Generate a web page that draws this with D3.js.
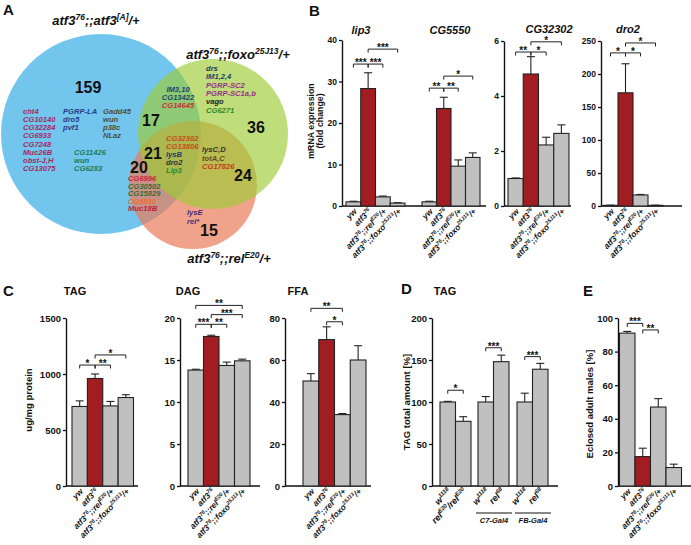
<!DOCTYPE html>
<html><head><meta charset="utf-8">
<script src="https://cdn.jsdelivr.net/npm/d3@7"></script>
<style>
body{margin:0;background:#fff}
svg{display:block}
text{font-family:"Liberation Sans",Arial,Helvetica,sans-serif;font-weight:bold;fill:#111}
</style>
</head><body>
<svg id="c" width="691" height="545"></svg>
<script>
// ---------------- DATA ----------------
const genotypes = ["yw","atf3^{76}","atf3^{76};;rel^{E20}/+","atf3^{76};;foxo^{25J13}/+"];

// Panel A (Venn)
const vennSets = ["atf3^{76};;atf3^{[A]}/+","atf3^{76};;foxo^{25J13}/+","atf3^{76};;rel^{E20}/+"];
const vennRegions = ["A","AB","B","ABC","AC","BC","C"];
const vennCounts = [159,17,36,21,20,24,15];
const genesA1 = ["cht4","CG10140","CG32284","CG6933","CG7248","Muc26B","obst-J,H","CG13075"];
const genesA2 = ["PGRP-LA","dro5","pvf1"];
const genesA3 = ["Gadd45","wun","p38c","NLaz"];
const genesA4 = ["CG11426","wun","CG6283"];
const genesAB = ["IM3,10","CG13422","CG14645"];
const genesB = ["drs","IM1,2,4","PGRP-SC2","PGRP-SC1a,b","vago","CG6271"];
const genesABC = ["CG32302","CG13806","lysB","dro2","Lip3"];
const genesBC = ["lysC,D","totA,C","CG17826"];
const genesAC = ["CG6996","CG30502","CG15829","CG5550","Muc18B"];
const genesC = ["lysE","rel*"];

// Panel B (mRNA fold change)
const lip3Mean = [1.0, 28.3, 2.2, 0.7];
const lip3Err  = [0.15, 3.8, 0.2, 0.1];
const cg5550Mean = [1.0, 23.5, 9.6, 11.7];
const cg5550Err  = [0.15, 2.7, 1.5, 1.1];
const cg32302Mean = [1.0, 4.8, 2.22, 2.64];
const cg32302Err  = [0.02, 0.63, 0.28, 0.31];
const dro2Mean = [1, 171.5, 16.7, 1];
const dro2Err  = [0.3, 44, 0.8, 0.3];
const bTicksLip = [0,10,20,30,40];
const bTicksCG32302 = [0,2,4,6];
const bTicksDro2 = [0,50,100,150,200,250];
// significance: [group, i, j, stars, level]
const lipSig = [[0,0,1,"***",34.2],[0,1,2,"***",34.2],[0,1,3,"***",37.8],
                [1,0,1,"**",28.4],[1,1,2,"**",28.4],[1,1,3,"*",31.3]];
const cg32302Sig = [[0,0,1,"**",5.6],[0,1,2,"*",5.6],[0,1,3,"*",5.97]];
const dro2Sig = [[0,0,1,"*",232],[0,1,2,"*",232],[0,1,3,"*",247]];

// Panel C (lipids)
const tagMean = [710, 960, 715, 790];
const tagErr  = [50, 40, 40, 25];
const dagMean = [13.8, 17.8, 14.35, 14.9];
const dagErr  = [0.1, 0.15, 0.4, 0.2];
const ffaMean = [50, 69.7, 34, 60];
const ffaErr  = [3.5, 6.1, 0.5, 6.8];
const tagTicks = [0,500,1000,1500];
const dagTicks = [0,5,10,15,20];
const ffaTicks = [0,20,40,60,80];
const tagSig = [[0,0,1,"*",1080],[0,1,2,"**",1080],[0,1,3,"*",1170]];
const dagSig = [[0,0,3,"**",21.5],[0,1,3,"***",20.4],[0,0,1,"***",19.25],[0,1,2,"**",19.25]];
const ffaSig = [[0,0,2,"**",84.6],[0,1,2,"*",78.2]];

// Panel D (TAG %)
const dLabels = [["w^{1118}","rel^{E20}/rel^{E20}"],["w^{1118}","rel^{68}"],["w^{1118}","rel^{68}"]];
const dDrivers = ["", "C7-Gal4", "FB-Gal4"];
const dMean = [[100, 77],[100, 148],[100, 139]];
const dErr  = [[0.8, 5.5],[6.5, 7.8],[10.5, 7]];
const dTicks = [0,50,100,150,200];
const dSig = [[0,0,1,"*",114],[1,0,1,"***",164.6],[2,0,1,"***",154]];

// Panel E (eclosion)
const eMean = [91, 17.5, 47, 11];
const eErr  = [1, 5, 5, 2];
const eTicks = [0,20,40,60,80,100];
const eSig = [[0,0,1,"***",96.8],[0,1,2,"**",92.9]];

// ---------------- STYLE ----------------
const GRAY = "#c0c0c0", RED = "#a11d22";
const genoFill = [GRAY, RED, GRAY, GRAY];

const svg = d3.select("#c");

function rich(t, str, size, sup) {
  const parts = str.split(/(\^\{[^}]*\})/).filter(s => s.length);
  let up = false;
  const sh = size * 0.42;
  parts.forEach(p => {
    if (p.startsWith("^{")) {
      t.append("tspan").attr("font-size", sup).attr("dy", up ? 0 : -sh).text(p.slice(2, -1));
      up = true;
    } else {
      t.append("tspan").attr("font-size", size).attr("dy", up ? sh : 0).text(p);
      up = false;
    }
  });
  return t;
}

function barChart(cfg) {
  const g = svg.append("g");
  const y = d3.scaleLinear().domain(cfg.domain).range([cfg.base, cfg.top]);
  const ax = d3.axisLeft(y).tickValues(cfg.ticks).tickFormat(d3.format("d"))
    .tickSize(3).tickSizeOuter(0).tickPadding(2);
  const ga = g.append("g").attr("transform", `translate(${cfg.axisX},0)`).call(ax);
  ga.attr("font-family", null).attr("font-size", null);
  ga.select(".domain").attr("stroke", "#111").attr("stroke-width", 1.4);
  ga.selectAll(".tick line").attr("stroke", "#111").attr("stroke-width", 1.3);
  ga.selectAll(".tick text").attr("font-size", cfg.tickFont).attr("fill", "#111");
  g.append("line").attr("x1", cfg.axisX).attr("x2", cfg.baseEnd)
    .attr("y1", y(0)).attr("y2", y(0)).attr("stroke", "#111").attr("stroke-width", 1.4);

  const xs = cfg.groups.map(gr => {
    const x = d3.scaleBand().domain(d3.range(gr.means.length)).range([gr.x0, gr.x1]);
    const bw = x.bandwidth();
    gr.means.forEach((m, i) => {
      const e = gr.errs[i];
      const cx = x(i) + bw / 2;
      g.append("line").attr("x1", cx).attr("x2", cx).attr("y1", y(m)).attr("y2", y(m + e))
        .attr("stroke", "#222").attr("stroke-width", 1.1);
      g.append("line").attr("x1", cx - 4).attr("x2", cx + 4).attr("y1", y(m + e)).attr("y2", y(m + e))
        .attr("stroke", "#222").attr("stroke-width", 1.1);
      g.append("rect").attr("x", x(i)).attr("y", y(m)).attr("width", bw).attr("height", y(0) - y(m))
        .attr("fill", gr.fills[i]).attr("stroke", "#222").attr("stroke-width", 1.1);
      const t = g.append("text").attr("text-anchor", "end").attr("font-style", "italic")
        .attr("transform", `translate(${cx + 4},${y(0) + 6}) rotate(-45)`);
      rich(t, gr.labels[i], cfg.labFont, cfg.labFont * 0.65);
    });
    return x;
  });

  (cfg.sig || []).forEach(([gi, i, j, s, v]) => {
    const x = xs[gi], bw = x.bandwidth();
    const x1 = x(i) + bw / 2, x2 = x(j) + bw / 2, yy = y(v);
    g.append("path").attr("d", `M${x1},${yy + 3.5}V${yy}H${x2}V${yy + 3.5}`)
      .attr("fill", "none").attr("stroke", "#222").attr("stroke-width", 1);
    g.append("text").attr("x", (x1 + x2) / 2).attr("y", yy + 2).attr("text-anchor", "middle")
      .attr("font-size", 10).text(s);
  });

  if (cfg.title) {
    cfg.title.forEach(tt => {
      g.append("text").attr("x", tt.x).attr("y", tt.y).attr("text-anchor", "middle")
        .attr("font-size", tt.size).attr("font-style", tt.italic ? "italic" : "normal").text(tt.text);
    });
  }
  return { g, y, xs };
}

function yLabel(lines, x, yc, size, gap) {
  lines.forEach((l, k) => {
    svg.append("text").attr("transform", `translate(${x + k * gap},${yc}) rotate(-90)`)
      .attr("text-anchor", "middle").attr("font-size", size).text(l);
  });
}

function letter(s, x, y) {
  svg.append("text").attr("x", x).attr("y", y).attr("font-size", 15).text(s);
}

// ---------------- PANEL A ----------------
letter("A", 3, 15);
const venn = svg.append("g");
venn.append("circle").attr("cx", 101).attr("cy", 134).attr("r", 100).attr("fill", "#72c6ee");
venn.append("circle").attr("cx", 193).attr("cy", 185).attr("r", 64).attr("fill", "#e97c58").attr("fill-opacity", 0.7);
venn.append("circle").attr("cx", 213).attr("cy", 134).attr("r", 75).attr("fill", "#9ccc34").attr("fill-opacity", 0.65);

const titlePos = [[96, 25], [238, 59], [229, 263]];
vennSets.forEach((s, k) => {
  const t = venn.append("text").attr("x", titlePos[k][0]).attr("y", titlePos[k][1])
    .attr("text-anchor", "middle").attr("font-style", "italic");
  rich(t, s, 13, 8.5);
});

const countPos = [[88, 87], [151, 120], [256, 127], [153, 153], [139, 167], [243, 175], [209, 230]];
vennCounts.forEach((c, k) => {
  venn.append("text").attr("x", countPos[k][0]).attr("y", countPos[k][1] + 5.5)
    .attr("text-anchor", "middle").attr("font-size", 16).text(c);
});

function geneList(list, colors, x, y0, dy, anchor) {
  list.forEach((gname, k) => {
    venn.append("text").attr("x", x).attr("y", y0 + k * dy).attr("text-anchor", anchor || "start")
      .attr("font-size", 7.6).attr("font-style", "italic")
      .style("fill", colors[k] || colors[0]).text(gname);
  });
}
const CR = "#a52a5c", NAVY = "#283a86", OLV = "#4f4f33", TEAL = "#1c7a5a";
geneList(genesA1, [CR], 23, 114, 8.15);
geneList(genesA2, [NAVY], 63, 114, 8.15);
geneList(genesA3, [OLV], 103, 114, 8.15);
geneList(genesA4, [TEAL], 74, 154.7, 8.15);
geneList(genesAB, ["#1e3d6e", "#1d4a60", "#c83030"], 178, 92, 8, "middle");
geneList(genesB, ["#2a3a5a", "#2a3a6a", "#992e88", "#992e88", "#222", "#2a8a2a"], 206, 71, 8.3);
geneList(genesABC, ["#c84a1a", "#c84a1a", "#2a3a6a", "#333", "#2a8a2a"], 166, 141, 8);
geneList(genesBC, ["#333", "#6a4a1a", "#c8381a"], 202, 152, 8.5);
geneList(genesAC, ["#d02040", "#3a6a3a", "#3a6a3a", "#f26a3a", "#c0203a"], 128, 181, 7.5);
geneList(genesC, ["#4a2a7a", "#4a2a7a"], 187, 215, 9);

// ---------------- PANEL B ----------------
letter("B", 309, 16);
yLabel(["mRNA expression", "(fold change)"], 314, 121, 8.8, 9);
barChart({
  axisX: 342, base: 206, top: 40, domain: [0, 40], ticks: bTicksLip, tickFont: 8.5,
  baseEnd: 486, labFont: 8.3,
  groups: [
    { x0: 346, x1: 405, means: lip3Mean, errs: lip3Err, fills: genoFill, labels: genotypes },
    { x0: 422, x1: 480, means: cg5550Mean, errs: cg5550Err, fills: genoFill, labels: genotypes }
  ],
  sig: lipSig,
  title: [{ x: 361, y: 34, size: 11, italic: true, text: "lip3" }, { x: 450, y: 34, size: 11, italic: true, text: "CG5550" }]
});
barChart({
  axisX: 504, base: 206, top: 41, domain: [0, 6], ticks: bTicksCG32302, tickFont: 8.5,
  baseEnd: 571, labFont: 8.3,
  groups: [{ x0: 508, x1: 569, means: cg32302Mean, errs: cg32302Err, fills: genoFill, labels: genotypes }],
  sig: cg32302Sig,
  title: [{ x: 549, y: 32.5, size: 11, italic: true, text: "CG32302" }]
});
barChart({
  axisX: 601, base: 206, top: 41, domain: [0, 250], ticks: bTicksDro2, tickFont: 8.5,
  baseEnd: 682, labFont: 8.3,
  groups: [{ x0: 603, x1: 663, means: dro2Mean, errs: dro2Err, fills: genoFill, labels: genotypes }],
  sig: dro2Sig,
  title: [{ x: 628, y: 32.5, size: 11, italic: true, text: "dro2" }]
});

// ---------------- PANEL C ----------------
letter("C", 3, 296);
yLabel(["ug/mg protein"], 32, 400, 9.5, 0);
barChart({
  axisX: 66, base: 486, top: 318, domain: [0, 1500], ticks: tagTicks, tickFont: 9.5,
  baseEnd: 138, labFont: 8.3,
  groups: [{ x0: 72, x1: 133.5, means: tagMean, errs: tagErr, fills: genoFill, labels: genotypes }],
  sig: tagSig,
  title: [{ x: 75, y: 295, size: 11, text: "TAG" }]
});
barChart({
  axisX: 180, base: 486, top: 318, domain: [0, 20], ticks: dagTicks, tickFont: 9.5,
  baseEnd: 260, labFont: 8.3,
  groups: [{ x0: 188, x1: 250, means: dagMean, errs: dagErr, fills: genoFill, labels: genotypes }],
  sig: dagSig,
  title: [{ x: 188, y: 295, size: 11, text: "DAG" }]
});
barChart({
  axisX: 285, base: 486, top: 318, domain: [0, 80], ticks: ffaTicks, tickFont: 9.5,
  baseEnd: 371, labFont: 8.3,
  groups: [{ x0: 303, x1: 366, means: ffaMean, errs: ffaErr, fills: genoFill, labels: genotypes }],
  sig: ffaSig,
  title: [{ x: 298, y: 295, size: 11, text: "FFA" }]
});

// ---------------- PANEL D ----------------
letter("D", 401, 294);
yLabel(["TAG total amount [%]"], 410, 402, 9.5, 0);
const dRanges = [[440, 471], [478, 509], [517, 548]];
const dChart = barChart({
  axisX: 432, base: 486, top: 318, domain: [0, 200], ticks: dTicks, tickFont: 9.5,
  baseEnd: 558, labFont: 9,
  groups: dMean.map((m, k) => ({ x0: dRanges[k][0], x1: dRanges[k][1], means: m, errs: dErr[k], fills: [GRAY, GRAY], labels: dLabels[k] })),
  sig: dSig,
  title: [{ x: 445, y: 295, size: 11, text: "TAG" }]
});
dDrivers.forEach((drv, k) => {
  if (!drv) return;
  const x0 = dRanges[k][0] - 2, x1 = dRanges[k][1] + 3;
  svg.append("line").attr("x1", x0).attr("x2", x1).attr("y1", 513).attr("y2", 513)
    .attr("stroke", "#111").attr("stroke-width", 1.2);
  svg.append("text").attr("x", (x0 + x1) / 2).attr("y", 523).attr("text-anchor", "middle")
    .attr("font-size", 7.5).attr("font-style", "italic").text(drv);
});

// ---------------- PANEL E ----------------
letter("E", 583, 296);
yLabel(["Eclosed adult males [%]"], 593, 404, 9.5, 0);
barChart({
  axisX: 618, base: 486, top: 318, domain: [0, 100], ticks: eTicks, tickFont: 9.5,
  baseEnd: 692, labFont: 8.3,
  groups: [{ x0: 619.5, x1: 681.5, means: eMean, errs: eErr, fills: genoFill, labels: genotypes }],
  sig: eSig
});
</script>
</body></html>
